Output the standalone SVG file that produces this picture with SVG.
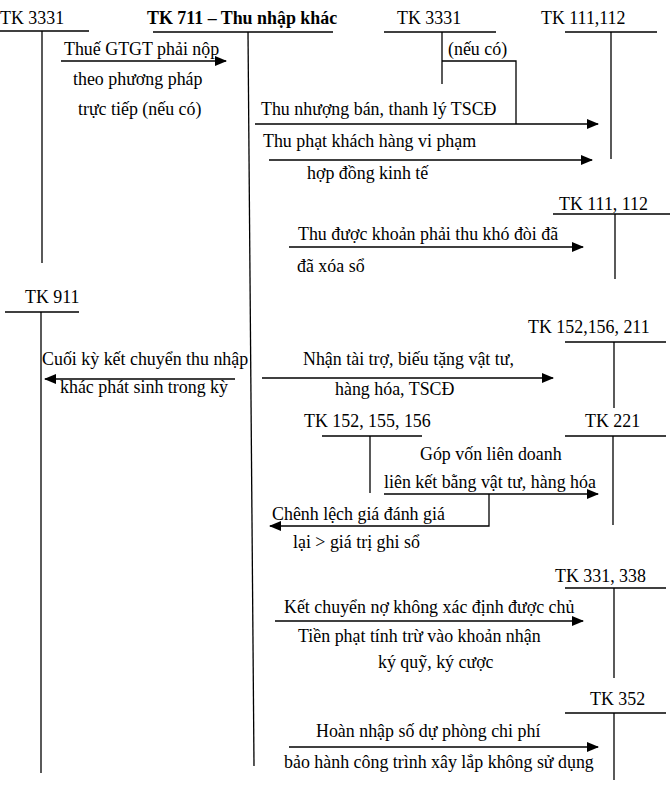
<svg xmlns="http://www.w3.org/2000/svg" width="671" height="802" viewBox="0 0 671 802">
<style>
text{font-family:"Liberation Serif","Times New Roman",serif;font-size:17.9px;fill:#000}
.b{font-weight:bold}
line,polyline{stroke:#000;stroke-width:1.3;fill:none}
</style>
<defs>
<marker id="ah" markerWidth="12" markerHeight="10" refX="11" refY="5" orient="auto" markerUnits="userSpaceOnUse">
<path d="M0,0 L12,5 L0,10 z" fill="#000"/>
</marker>
</defs>
<rect width="671" height="802" fill="#fff"/>
<g id="tk3331-left">
<text x="0" y="24">TK 3331</text>
<line x1="0" y1="31" x2="89" y2="31"/>
<line x1="42" y1="31" x2="42" y2="263"/>
</g>
<g id="tk711">
<text class="b" x="147" y="24">TK 711 – Thu nhập khác</text>
<line x1="153" y1="32" x2="333" y2="32"/>
<line x1="248" y1="32" x2="254" y2="766"/>
</g>
<g id="tk3331-right">
<text x="397" y="24">TK 3331</text>
<line x1="384" y1="32" x2="496" y2="32"/>
<line x1="442" y1="32" x2="442" y2="84"/>
</g>
<g id="tk111-112-a">
<text x="541" y="24">TK 111,112</text>
<line x1="565" y1="32" x2="657" y2="32"/>
<line x1="611" y1="32" x2="611" y2="159"/>
</g>
<g id="tk111-112-b">
<text x="559" y="210">TK 111, 112</text>
<line x1="553" y1="214" x2="670" y2="214"/>
<line x1="615" y1="214" x2="615" y2="279"/>
</g>
<g id="tk911">
<text x="25" y="303">TK 911</text>
<line x1="5" y1="312" x2="79" y2="312"/>
<line x1="41" y1="312" x2="41" y2="773"/>
</g>
<g id="tk152-156-211">
<text x="528" y="333">TK 152,156, 211</text>
<line x1="565" y1="342" x2="666" y2="342"/>
<line x1="614" y1="342" x2="614" y2="408"/>
</g>
<g id="tk152-155-156">
<text x="304" y="427">TK 152, 155, 156</text>
<line x1="322" y1="436" x2="422" y2="436"/>
<line x1="370" y1="436" x2="370" y2="493"/>
</g>
<g id="tk221">
<text x="585" y="427">TK 221</text>
<line x1="565" y1="436" x2="666" y2="436"/>
<line x1="613" y1="436" x2="613" y2="525"/>
</g>
<g id="tk331-338">
<text x="555" y="582">TK 331, 338</text>
<line x1="565" y1="588" x2="666" y2="588"/>
<line x1="614" y1="588" x2="614" y2="678"/>
</g>
<g id="tk352">
<text x="590" y="705">TK 352</text>
<line x1="565" y1="713" x2="666" y2="713"/>
<line x1="614" y1="713" x2="614" y2="780"/>
</g>
<g id="connectors">
<line x1="61" y1="61" x2="226" y2="61" marker-end="url(#ah)"/>
<polyline points="442,61 516,61 516,124"/>
<line x1="255" y1="124" x2="598" y2="124" marker-end="url(#ah)"/>
<line x1="269" y1="160" x2="592" y2="160" marker-end="url(#ah)"/>
<line x1="289" y1="247" x2="583" y2="247" marker-end="url(#ah)"/>
<line x1="235" y1="379" x2="45" y2="379" marker-end="url(#ah)"/>
<line x1="262" y1="378" x2="553" y2="378" marker-end="url(#ah)"/>
<line x1="384" y1="494" x2="598" y2="494" marker-end="url(#ah)"/>
<polyline points="489,494 489,526 270,526" marker-end="url(#ah)"/>
<line x1="275" y1="621" x2="583" y2="621" marker-end="url(#ah)"/>
<line x1="289" y1="747" x2="598" y2="747" marker-end="url(#ah)"/>
</g>
<g id="labels">
<text x="64" y="55">Thuế GTGT phải nộp</text>
<text x="73" y="85">theo phương pháp</text>
<text x="78" y="115">trực tiếp (nếu có)</text>
<text x="448" y="55">(nếu có)</text>
<text x="261" y="115">Thu nhượng bán, thanh lý TSCĐ</text>
<text x="263" y="147">Thu phạt khách hàng vi phạm</text>
<text x="307" y="179">hợp đồng kinh tế</text>
<text x="298" y="240">Thu được khoản phải thu khó đòi đã</text>
<text x="297" y="272">đã xóa sổ</text>
<text x="42" y="365">Cuối kỳ kết chuyển thu nhập</text>
<text x="60" y="393">khác phát sinh trong kỳ</text>
<text x="303" y="365">Nhận tài trợ, biếu tặng vật tư,</text>
<text x="335" y="395">hàng hóa, TSCĐ</text>
<text x="420" y="460">Góp vốn liên doanh</text>
<text x="384" y="488">liên kết bằng vật tư, hàng hóa</text>
<text x="272" y="520">Chênh lệch giá đánh giá</text>
<text x="293" y="548">lại &gt; giá trị ghi sổ</text>
<text x="284" y="613">Kết chuyển nợ không xác định được chủ</text>
<text x="298" y="642">Tiền phạt tính trừ vào khoản nhận</text>
<text x="378" y="668">ký quỹ, ký cược</text>
<text x="316" y="737">Hoàn nhập số dự phòng chi phí</text>
<text x="284" y="768">bảo hành công trình xây lắp không sử dụng</text>
</g>
</svg>
